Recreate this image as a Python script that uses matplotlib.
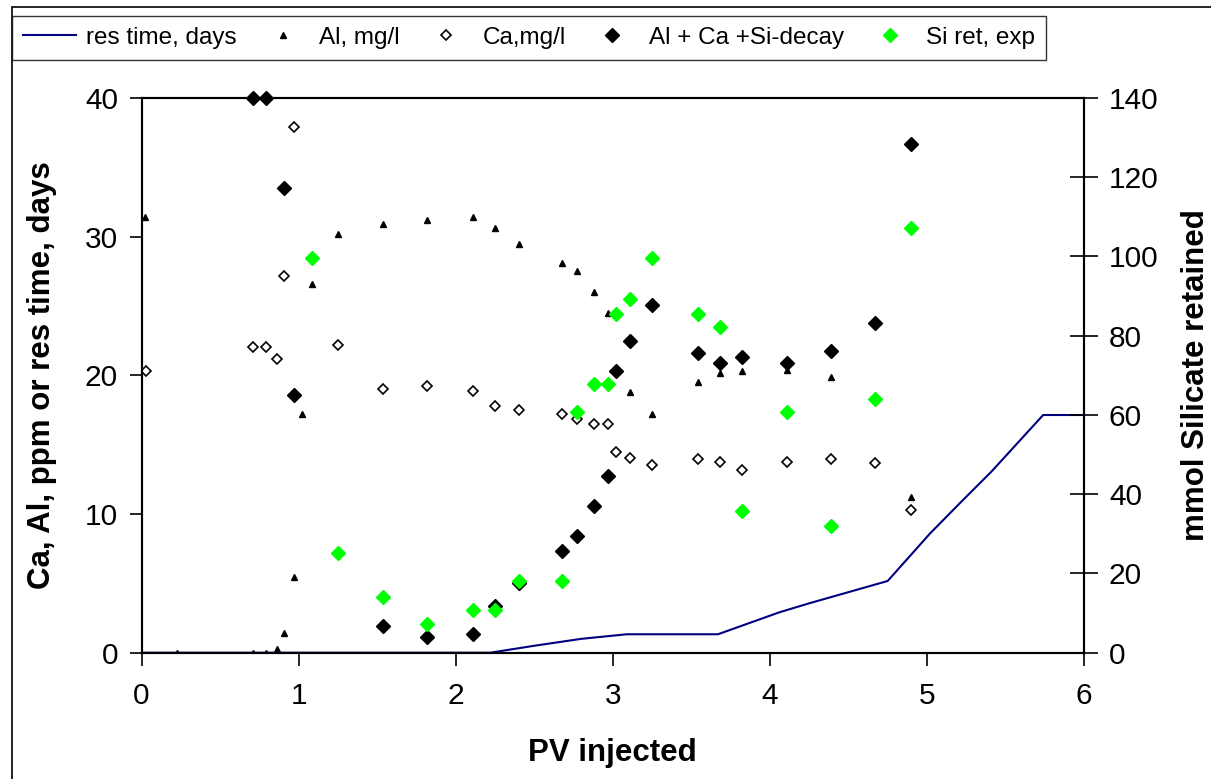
import matplotlib
matplotlib.use('Agg')
import matplotlib.pyplot as plt
from matplotlib.patches import Rectangle

plt.rcParams['font.family'] = ['Liberation Sans', 'DejaVu Sans']

# res time, days (left axis)
res_x = [0, 0.22, 2.22, 2.5, 2.8, 3.09, 3.67, 4.06, 4.25, 4.75, 5.02, 5.22, 5.41, 5.74, 6.0]
res_y = [0, 0, 0, 0.5, 1.0, 1.33, 1.33, 2.91, 3.56, 5.17, 8.6, 10.9, 13.05, 17.14, 17.14]

# Al, mg/l (left axis)
al_x = [0.02, 0.226, 0.71, 0.79, 0.86, 0.91, 0.97, 1.02, 1.085, 1.25, 1.54, 1.82, 2.11, 2.25,
        2.40, 2.68, 2.77, 2.88, 2.97, 3.11, 3.25, 3.54, 3.68, 3.82, 4.11, 4.39, 4.90]
al_y = [31.4, 0, 0, 0, 0.3, 1.44, 5.46, 17.2, 26.6, 30.2, 30.9, 31.2, 31.4, 30.6,
        29.5, 28.1, 27.5, 26.0, 24.5, 18.8, 17.2, 19.5, 20.2, 20.3, 20.4, 19.9, 11.2]

# Ca, mg/l (left axis)
ca_x = [0.03, 0.71, 0.79, 0.86, 0.906, 0.97, 1.25, 1.54, 1.82, 2.11, 2.25, 2.40, 2.68, 2.77,
        2.88, 2.97, 3.02, 3.11, 3.25, 3.54, 3.68, 3.82, 4.11, 4.39, 4.67, 4.90]
ca_y = [20.3, 22.06, 22.06, 21.2, 27.2, 37.9, 22.2, 19.0, 19.2, 18.9, 17.8, 17.5, 17.2, 16.85,
        16.5, 16.5, 14.5, 14.06, 13.5, 13.94, 13.75, 13.17, 13.75, 13.94, 13.65, 10.3]

# Al + Ca + Si-decay (right axis)
dec_x = [0.71, 0.79, 0.906, 0.97, 1.54, 1.82, 2.11, 2.25, 2.40, 2.68, 2.77, 2.88, 2.97, 3.02,
         3.11, 3.25, 3.54, 3.68, 3.82, 4.11, 4.39, 4.67, 4.90]
dec_y = [140, 140, 117.2, 65.1, 6.7, 4.0, 4.6, 11.8, 17.5, 25.7, 29.5, 37.0, 44.6, 71.1,
         78.7, 87.7, 75.7, 73.2, 74.7, 73.2, 76.1, 83.1, 128.5]

# Si ret, exp (right axis)
si_x = [1.085, 1.25, 1.54, 1.82, 2.11, 2.25, 2.40, 2.68, 2.77, 2.88, 2.97, 3.02, 3.11, 3.25,
        3.54, 3.68, 3.82, 4.11, 4.39, 4.67, 4.90]
si_y = [99.7, 25.1, 14.1, 7.2, 10.8, 10.7, 18.2, 18.2, 60.7, 67.7, 67.7, 85.6, 89.2, 99.7,
        85.6, 82.1, 35.7, 60.7, 32.1, 64.1, 107.2]

W, H = 1211, 779
fig = plt.figure(figsize=(W / 100, H / 100), dpi=100)
ax = fig.add_axes([141.5 / W, 1 - 652.7 / H, (1084 - 141.5) / W, (652.7 - 98) / H])
ax2 = ax.twinx()

# outer chart border
fig.patches.append(Rectangle((12 / W, -0.1), 1.2, 1 - 7 / H + 0.1, transform=fig.transFigure,
                             fill=False, edgecolor='black', linewidth=1.2, clip_on=False))

l_res, = ax.plot(res_x, res_y, color='#000080', linewidth=1.5, label='res time, days', zorder=2)
l_al, = ax.plot(al_x, al_y, linestyle='none', marker='^', markersize=4.5, color='black',
                label='Al, mg/l', zorder=3)
l_ca, = ax.plot(ca_x, ca_y, linestyle='none', marker='D', markersize=4.8, markerfacecolor='white',
                markeredgecolor='black', markeredgewidth=1.2, label='Ca,mg/l', zorder=3)
l_dec, = ax2.plot(dec_x, dec_y, linestyle='none', marker='D', markersize=7.3, color='black',
                  label='Al + Ca +Si-decay', clip_on=False, zorder=4)
l_si, = ax2.plot(si_x, si_y, linestyle='none', marker='D', markersize=7.3, color='#00ff00',
                 label='Si ret, exp', zorder=5)

ax.set_xlim(0, 6)
ax.set_ylim(0, 40)
ax2.set_ylim(0, 140)
ax.set_xticks(range(0, 7))
ax.set_yticks(range(0, 41, 10))
ax2.set_yticks(range(0, 141, 20))

for a in (ax, ax2):
    for s in a.spines.values():
        s.set_linewidth(1.5)
        s.set_color('black')
ax.tick_params(axis='both', labelsize=21.5, length=9, width=1.2, direction='out', pad=8)
ax2.tick_params(axis='y', labelsize=21.5, length=20, width=1.2, direction='inout', pad=8)
ax.tick_params(axis='x', pad=12)

ax.set_xlabel('PV injected', fontsize=22.5, fontweight='bold', labelpad=20)
ax.set_ylabel('Ca, Al, ppm or res time, days', fontsize=22.5, fontweight='bold', labelpad=20)
ax2.set_ylabel('mmol Silicate retained', fontsize=22.5, fontweight='bold', labelpad=16)

leg = fig.legend(handles=[l_res, l_al, l_ca, l_dec, l_si], loc='upper left',
                 bbox_to_anchor=(12 / W, 1 - 16 / H), ncol=5, frameon=True, fancybox=False,
                 edgecolor='black', fontsize=17.5, handlelength=2.2, handletextpad=0.4,
                 columnspacing=0.8, borderpad=0.45, borderaxespad=0, markerscale=1.0)
leg.get_frame().set_linewidth(1.0)

fig.savefig('out.png', dpi=100)
